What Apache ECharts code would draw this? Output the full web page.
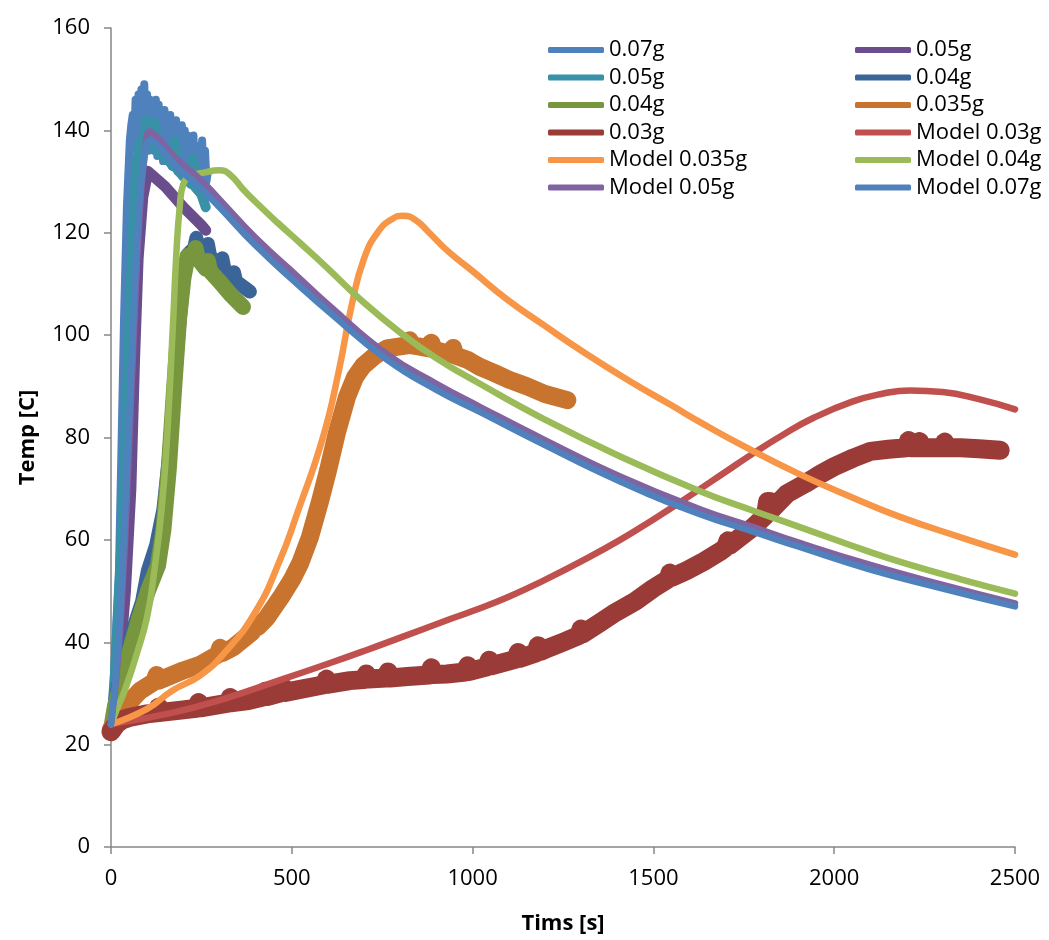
<!DOCTYPE html>
<html>
<head>
<meta charset="utf-8">
<script src="https://cdn.jsdelivr.net/npm/echarts@6/dist/echarts.min.js"></script>
<style>
html,body{margin:0;padding:0;background:#fff;}
#chart{width:1049px;height:940px;}
</style>
</head>
<body>
<div id="chart"></div>
<script>
// ---- Tick values ----
const xTicks = [0, 500, 1000, 1500, 2000, 2500];
const yTicks = [0, 20, 40, 60, 80, 100, 120, 140, 160];

// ---- Series names (legend order) ----
const seriesNames = ['0.07g', '0.05g', '0.05g\u200b', '0.04g', '0.04g\u200b', '0.035g', '0.03g',
  'Model 0.03g', 'Model 0.035g', 'Model 0.04g', 'Model 0.05g', 'Model 0.07g'];

// ---- Measured data (time s, temp C) ----
const exp007 = [[0,23],[8,33],[15,44],[22,54],[29,78],[36,103],[44,125],[52,138],[56,141],
  [60,143],[64,137],[68,146],[72,136],[76,147],[80,137],[84,148],[88,136],[92,149],[96,137],
  [100,147],[104,136],[108,146],[112,137],[116,145],[120,136],[124,146],[128,135],[132,145],
  [136,135],[140,144],[144,134],[148,144],[152,134],[156,143],[160,134],[164,143],[168,133],
  [172,142],[176,133],[180,142],[184,132],[188,141],[192,132],[196,141],[200,131],[204,140],
  [208,131],[212,139],[216,131],[220,138],[224,130],[228,139],[232,130],[236,137],[240,130],
  [244,137],[248,130],[252,138],[256,129.5],[260,136],[264,130],[268,132]];
const exp005a = [[0,23],[20,33],[40,50],[55,70],[65,95],[75,115],[88,127],[102,132],[150,129],
  [200,125],[250,121.5],[262,120.5]];
const exp005b = [[0,23],[12,35],[25,53],[40,80],[50,100],[60,120],[70,133],[80,137.5],
  [92,137.5],[96,142],[100,137.5],[118,136.5],[122,141.5],[126,136],[160,134],[172,133],
  [177,138],[182,132.5],[200,131],[222,129.5],[227,134.5],[232,129],[250,127.5],[262,125]];
const exp004a = [[0,23],[15,30],[33,36],[50,40],[70,44.5],[86,48],[102,54],[125,59],[145,66],
  [160,76],[175,90],[190,103],[202,112],[215,116],[230,117],[236,119],[242,117],[262,116.5],
  [268,117.8],[274,115.5],[301,113.5],[308,115],[314,112.8],[329,111.5],[340,112.3],[346,110.5],
  [384,108.5]];
const exp004b = [[0,23],[11,27.5],[39,35],[75,44],[102,50],[130,55],[145,62],[160,74],
  [175,90],[188,103],[200,111],[212,115.5],[228,115.5],[234,117],[240,115],[262,113],
  [268,114.5],[274,112.5],[300,110.5],[330,108],[365,105.5]];
const exp0035 = [[0,23],[30,26.5],[60,29],[80,30.5],[120,32.3],[126,33.6],[132,32.5],
  [200,34.5],[246,35.6],[296,37.6],[302,38.9],[308,37.9],[338,39],[390,42],[398,43.5],
  [406,43],[431,44.8],[470,48.8],[500,52.2],[523,55.4],[550,60.5],[578,67.5],[600,73.5],
  [625,81],[653,88],[675,91.8],[697,94],[730,96],[763,97.4],[800,97.8],[820,98],[826,99],
  [832,98],[850,97.8],[880,97.4],[886,98.5],[892,97.2],[940,96.2],[946,97.5],[952,96],
  [985,95.2],[1000,94.6],[1020,93.8],[1060,92.6],[1100,91.3],[1150,90],[1200,88.5],[1262,87.3]];
const exp003 = [[0,22.5],[15,24],[30,24.8],[50,25.3],[100,26],[126,26.2],
  [132,27.3],[138,26.3],[200,26.8],[236,27.1],[242,28.2],[248,27.2],[300,27.8],[324,28.1],
  [330,29.2],[336,28.2],[380,28.6],[420,29.3],[426,30.4],[432,29.4],[470,30.1],[476,31.2],
  [482,30.2],[523,30.8],[590,31.7],[596,32.8],[602,31.8],[661,32.5],[700,32.7],[706,33.8],
  [712,32.8],[760,33],[766,34.2],[772,33],[820,33.3],[860,33.5],[880,33.6],[886,35],
  [892,33.7],[929,33.8],[980,34.2],[986,35.4],[992,34.3],[1040,35.2],[1046,36.5],[1052,35.4],
  [1100,36.3],[1120,36.7],[1126,38],[1132,36.9],[1175,37.9],[1181,39.3],[1187,38.2],
  [1200,38.6],[1250,40],[1294,41.3],[1300,42.6],[1306,41.7],[1350,43.7],[1388,45.5],
  [1450,48],[1499,50.5],[1540,52.3],[1546,53.5],[1552,52.7],[1592,54],[1640,55.8],[1684,57.7],
  [1700,58.5],[1706,59.8],[1712,59],[1776,62.5],[1810,64.8],[1816,67.5],[1822,67.5],[1828,66],
  [1869,69],[1920,71],[1961,72.8],[2000,74.3],[2053,76],[2100,77.3],[2150,77.7],[2200,78],
  [2206,79.4],[2212,78],[2230,78],[2236,79.2],[2242,78],[2274,78],[2300,78],[2306,79.1],
  [2312,78],[2350,78],[2400,77.8],[2459,77.5]];

// ---- Model curves ----
const model003 = [[0,24],[168,26.2],[315,29],[467,32.6],[600,35.8],[700,38.3],[800,40.9],
  [929,44.3],[1000,46.1],[1100,48.9],[1200,52.2],[1300,55.8],[1408,60],[1500,64],[1592,68.2],
  [1700,73.3],[1776,76.9],[1860,80.6],[1942,83.8],[2050,87],[2130,88.5],[2210,89.2],
  [2300,88.9],[2400,87.5],[2500,85.5]];
const model0035 = [[0,24],[100,27],[168,30.5],[246,33.5],[315,38],[400,46],[467,56],[514,65],
  [586,80],[630,93],[666,106],[700,115],[740,120.3],[780,122.8],[807,123.3],[840,122.6],
  [880,120],[930,116.5],[1000,112.5],[1095,107],[1200,101.8],[1300,97],[1435,91],[1550,86.3],
  [1629,83],[1750,78.3],[1905,72.8],[2050,68.3],[2182,64.5],[2350,60.5],[2500,57.1]];
const model004 = [[0,24],[11,26],[40,31],[75,38.6],[100,45],[118,53],[140,66],[155,80],
  [172,103],[180,115],[190,125],[200,129.5],[220,131],[260,131.8],[300,132.2],[330,131.3],
  [365,128.5],[400,126],[460,122],[523,118],[600,113],[689,107],[800,100.5],[900,95.5],
  [1020,90.5],[1200,83.5],[1408,76.3],[1629,69.5],[1776,65.7],[1905,62.5],[2100,57.6],
  [2201,55.3],[2350,52.3],[2500,49.5]];
const model005 = [[0,24],[17,35],[33,52],[48,75],[63,100],[78,122],[93,135],[108,139.8],
  [130,138.5],[180,134.5],[246,130.5],[300,126.5],[400,119],[523,111],[600,106],[763,96.3],
  [900,90.5],[1020,86],[1200,79.5],[1408,72.4],[1629,66],[1776,62.5],[1900,59.5],[2100,55.1],
  [2300,51.2],[2500,47.6]];
const model007 = [[0,24],[15,35],[30,52],[45,75],[60,100],[75,122],[90,133.5],[108,138],
  [130,137],[180,133],[246,128.8],[300,125],[400,117.5],[523,109.5],[600,104.7],[763,95.2],
  [900,89.3],[1020,85],[1200,78.5],[1408,71.4],[1629,65],[1776,61.6],[1900,58.7],[2100,54.2],
  [2300,50.5],[2500,47]];

const seriesData = [exp007, exp005a, exp005b, exp004a, exp004b, exp0035, exp003,
  model003, model0035, model004, model005, model007];
const colors = ['#4F81BD', '#6A4D8C', '#3891A7', '#3B6598', '#77963D', '#C8742F', '#9A3B38',
  '#C0504D', '#F79646', '#9BBB59', '#8064A2', '#4F81BD'];
const widths = [8, 11, 10, 14, 16, 18, 19, 6.5, 6.5, 6.5, 6.5, 6.5];

const FONT = 'Open Sans';
const chart = echarts.init(document.getElementById('chart'), null, {renderer: 'canvas'});

const series = seriesNames.map((n, i) => ({
  name: n,
  type: 'line',
  data: seriesData[i],
  showSymbol: false,
  symbol: 'none',
  smooth: i >= 7 ? 0.5 : false,
  color: colors[i],
  lineStyle: {width: widths[i], color: colors[i], cap: 'round', join: 'round'},
  z: 2 + i,
  animation: false,
  silent: true
}));

const legendCommon = {
  orient: 'vertical',
  top: 39,
  icon: 'roundRect',
  itemWidth: 56,
  itemHeight: 6,
  itemGap: 5.5,
  padding: 0,
  selectedMode: false,
  textStyle: {fontFamily: FONT, fontSize: 22, color: '#000', lineHeight: 22}
};

chart.setOption({
  animation: false,
  backgroundColor: '#fff',
  grid: {left: 111, right: 34, top: 28, bottom: 88, containLabel: false},
  legend: [
    Object.assign({left: 548, data: [seriesNames[0], seriesNames[2], seriesNames[4], seriesNames[6], seriesNames[8], seriesNames[10]]}, legendCommon),
    Object.assign({left: 855, data: [seriesNames[1], seriesNames[3], seriesNames[5], seriesNames[7], seriesNames[9], seriesNames[11]]}, legendCommon)
  ],
  xAxis: {
    type: 'value',
    min: xTicks[0], max: xTicks[xTicks.length - 1], interval: 500,
    name: 'Tims [s]',
    nameLocation: 'middle',
    nameGap: 66,
    nameTextStyle: {fontFamily: FONT, fontSize: 22, fontWeight: 'bold', color: '#000'},
    axisLine: {show: true, lineStyle: {color: '#868686', width: 1.5}},
    axisTick: {show: true, length: 7, inside: false, lineStyle: {color: '#868686', width: 1.5}},
    axisLabel: {fontFamily: FONT, fontSize: 22, color: '#000', margin: 21,
      formatter: v => String(v)},
    splitLine: {show: false}
  },
  yAxis: {
    type: 'value',
    min: yTicks[0], max: yTicks[yTicks.length - 1], interval: 20,
    name: 'Temp [C]',
    nameLocation: 'middle',
    nameGap: 72,
    nameTextStyle: {fontFamily: FONT, fontSize: 22, fontWeight: 'bold', color: '#000'},
    axisLine: {show: true, lineStyle: {color: '#868686', width: 1.5}},
    axisTick: {show: true, length: 7, inside: false, lineStyle: {color: '#868686', width: 1.5}},
    axisLabel: {fontFamily: FONT, fontSize: 22, color: '#000', margin: 21,
      formatter: v => String(v)},
    splitLine: {show: false}
  },
  series: series
});
</script>
</body>
</html>
